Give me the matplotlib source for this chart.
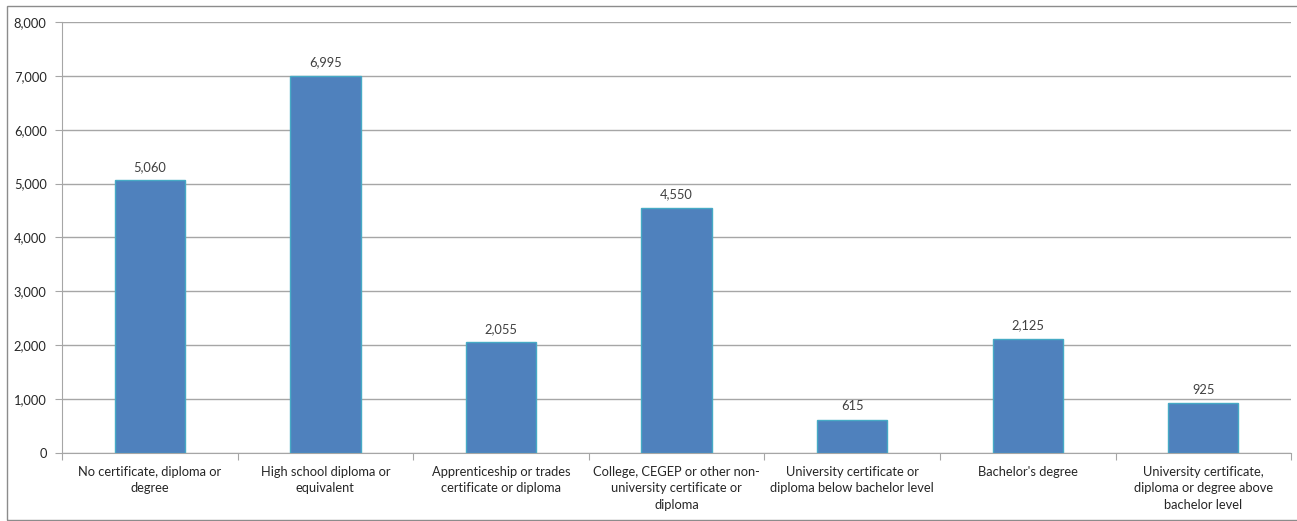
import matplotlib
matplotlib.use("Agg")
import matplotlib.pyplot as plt
from matplotlib.patches import Rectangle
from matplotlib.ticker import FuncFormatter, MultipleLocator
import numpy as np

plt.rcParams['font.family'] = ['Lato', 'DejaVu Sans']
plt.rcParams['font.size'] = 9.3

categories = [
    "No certificate, diploma or\ndegree",
    "High school diploma or\nequivalent",
    "Apprenticeship or trades\ncertificate or diploma",
    "College, CEGEP or other non-\nuniversity certificate or\ndiploma",
    "University certificate or\ndiploma below bachelor level",
    "Bachelor's degree",
    "University certificate,\ndiploma or degree above\nbachelor level",
]
values = [5060, 6995, 2055, 4550, 615, 2125, 925]

BAR = "#4F81BD"
EDGE = "#46AAC5"
GRID = "#a6a6a6"
TEXT = "#404040"

fig = plt.figure(figsize=(12.97, 5.21), dpi=100)
ax = fig.add_axes([0.0478, 0.1305, 0.9477, 0.8273])

fig.patches.append(Rectangle((7 / 1297, 0.002), 1.0, 1 - 6 / 521 - 0.002,
                             transform=fig.transFigure, fill=False,
                             edgecolor="#8c8c8c", linewidth=1.0))

x = np.arange(len(values))
bars = ax.bar(x, values, width=0.4, color=BAR, edgecolor=EDGE, linewidth=1.0, zorder=3)
for xi, v in zip(x, values):
    ax.text(xi, v + 140, f"{v:,}", ha="center", va="bottom", color=TEXT)

ax.set_xlim(-0.5, len(values) - 0.5)
ax.set_ylim(0, 8000)
ax.yaxis.set_major_locator(MultipleLocator(1000))
ax.yaxis.set_major_formatter(FuncFormatter(lambda v, p: f"{int(v):,}"))
ax.grid(axis="y", color=GRID, linewidth=1.0, zorder=0)

ax.set_xticks(np.arange(-0.5, len(values), 1.0))
ax.set_xticklabels([])
ax.set_xticks(x, minor=True)
ax.set_xticklabels(categories, minor=True, color="#262626", va="top", linespacing=1.45)
ax.tick_params(axis="x", which="major", length=5, color=GRID, direction="out")
ax.tick_params(axis="x", which="minor", length=0, pad=9)
ax.tick_params(axis="y", length=5, color=GRID, labelcolor="#262626", pad=6)

for side in ["top", "right"]:
    ax.spines[side].set_visible(False)
ax.spines["left"].set_color(GRID)
ax.spines["bottom"].set_color(GRID)

fig.savefig("out.png", dpi=100)
